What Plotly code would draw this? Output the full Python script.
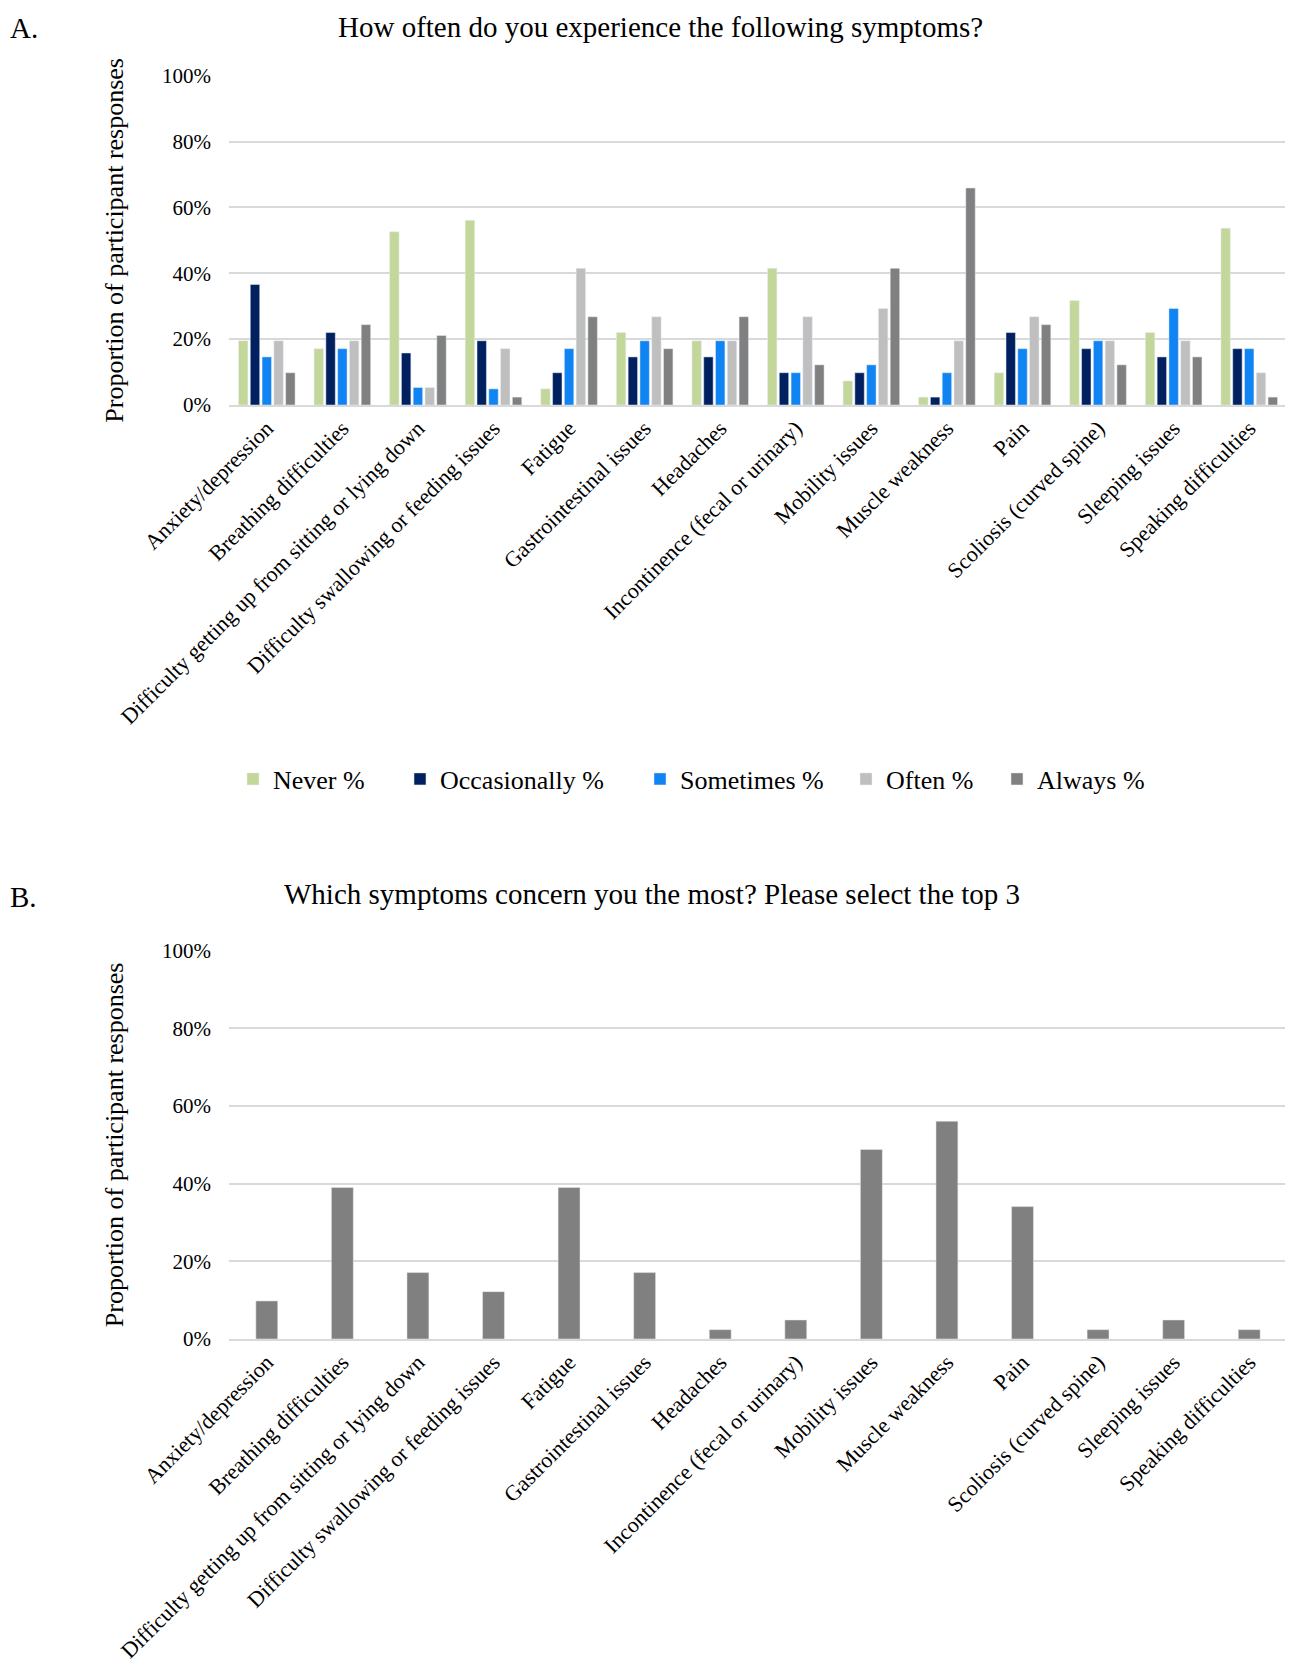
import plotly.graph_objects as go

categories = [
    "Anxiety/depression", "Breathing difficulties",
    "Difficulty getting up from sitting or lying down",
    "Difficulty swallowing or feeding issues", "Fatigue",
    "Gastrointestinal issues", "Headaches", "Incontinence (fecal or urinary)",
    "Mobility issues", "Muscle weakness", "Pain", "Scoliosis (curved spine)",
    "Sleeping issues", "Speaking difficulties",
]

never_pct = [19.5, 17.1, 52.6, 56.1, 4.9, 22.0, 19.5, 41.5, 7.3, 2.4, 9.8, 31.7, 22.0, 53.7]
occasionally_pct = [36.6, 22.0, 15.8, 19.5, 9.8, 14.6, 14.6, 9.8, 9.8, 2.4, 22.0, 17.1, 14.6, 17.1]
sometimes_pct = [14.6, 17.1, 5.3, 4.9, 17.1, 19.5, 19.5, 9.8, 12.2, 9.8, 17.1, 19.5, 29.3, 17.1]
often_pct = [19.5, 19.5, 5.3, 17.1, 41.5, 26.8, 19.5, 26.8, 29.3, 19.5, 26.8, 19.5, 19.5, 9.8]
always_pct = [9.8, 24.4, 21.1, 2.4, 26.8, 17.1, 26.8, 12.2, 41.5, 65.9, 24.4, 12.2, 14.6, 2.4]

concern_pct = [9.8, 39.0, 17.1, 12.2, 39.0, 17.1, 2.4, 4.9, 48.8, 56.1, 34.1, 2.4, 4.9, 2.4]

series_names = ["Never %", "Occasionally %", "Sometimes %", "Often %", "Always %"]
series_values = [never_pct, occasionally_pct, sometimes_pct, often_pct, always_pct]
series_colors = ["#C4D79B", "#002060", "#0F84F2", "#BFBFBF", "#808080"]

y_ticks = [0, 20, 40, 60, 80, 100]
y_tick_labels = ["0%", "20%", "40%", "60%", "80%", "100%"]

W, H = 1293, 1667
OFF = 8  # page body margin offset
FONT = "Liberation Serif, Times New Roman, serif"

def px_x(p):
    return (p - OFF) / W

def px_y(p):
    return 1 - (p - OFF) / H

fig = go.Figure()

legend_syms = [247, 414, 654, 860, 1011]
legend_keys = ["legend", "legend2", "legend3", "legend4", "legend5"]

for name, vals, col, lk in zip(series_names, series_values, series_colors, legend_keys):
    fig.add_trace(go.Bar(
        x=categories, y=vals, name=name, marker_color=col,
        xaxis="x", yaxis="y", legend=lk,
    ))

fig.add_trace(go.Bar(
    x=categories, y=concern_pct, name="Concern", marker_color="#808080",
    xaxis="x2", yaxis="y2", showlegend=False, width=0.29,
))

xdom = [px_x(229), px_x(1287)]
axis_common = dict(
    tickfont=dict(family=FONT, size=22, color="#000000"),
    tickangle=-45, showgrid=False, showline=True, linecolor="#D9D9D9",
    linewidth=1.5, ticks="", domain=xdom, type="category", automargin=False,
)
yaxis_common = dict(
    range=[0, 100], tickmode="array", tickvals=y_ticks, ticktext=y_tick_labels,
    tickfont=dict(family=FONT, size=21, color="#000000"),
    showgrid=True, gridcolor="#D9D9D9", gridwidth=1.5, zeroline=False,
    showline=False, ticks="", ticklabelstandoff=17, automargin=False,
    title=dict(text="Proportion of participant responses",
               font=dict(family=FONT, size=26, color="#000000"), standoff=30),
)

layout = dict(
    width=W, height=H, margin=dict(l=0, r=0, t=0, b=0, autoexpand=False),
    paper_bgcolor="white", plot_bgcolor="white",
    barmode="group", bargap=0.22, bargroupgap=0.2,
    font=dict(family=FONT, color="#000000"),
    xaxis=dict(**axis_common, anchor="y"),
    yaxis=dict(**yaxis_common, domain=[px_y(405), px_y(75.7)], anchor="x"),
    xaxis2=dict(**axis_common, anchor="y2"),
    yaxis2=dict(**yaxis_common, domain=[px_y(1339), px_y(950.7)], anchor="x2"),
    annotations=[
        dict(text="A.", x=px_x(8), y=px_y(10), xref="paper", yref="paper",
             xanchor="left", yanchor="top", showarrow=False,
             font=dict(family=FONT, size=29, color="#000000")),
        dict(text="How often do you experience the following symptoms?",
             x=px_x(661), y=px_y(9), xref="paper", yref="paper",
             xanchor="center", yanchor="top", showarrow=False,
             font=dict(family=FONT, size=29, color="#000000")),
        dict(text="B.", x=px_x(8), y=px_y(897), xref="paper", yref="paper",
             xanchor="left", yanchor="middle", showarrow=False,
             font=dict(family=FONT, size=29, color="#000000")),
        dict(text="Which symptoms concern you the most? Please select the top 3",
             x=px_x(652), y=px_y(894), xref="paper", yref="paper",
             xanchor="center", yanchor="middle", showarrow=False,
             font=dict(family=FONT, size=29, color="#000000")),
    ],
)

for lk, sx in zip(legend_keys, legend_syms):
    layout[lk] = dict(
        x=px_x(sx - 14), y=px_y(779), xanchor="left", yanchor="middle",
        orientation="h", bgcolor="rgba(0,0,0,0)", borderwidth=0,
        font=dict(family=FONT, size=26, color="#000000"),
        itemclick=False, itemdoubleclick=False,
    )

fig.update_layout(**layout)

fig.write_html("out.html")
